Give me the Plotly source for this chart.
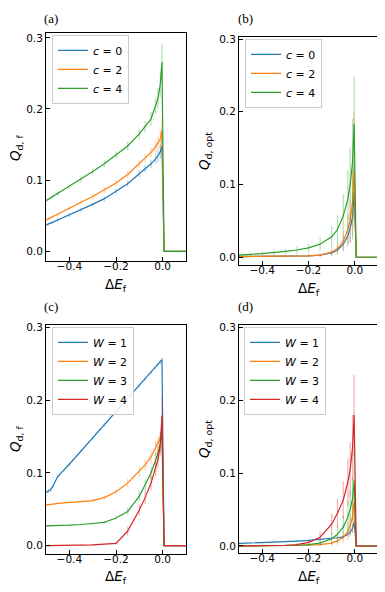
import plotly.graph_objects as go

# shared grid of Delta E_f values
dE = [-0.5, -0.49, -0.48, -0.47, -0.45, -0.4, -0.35, -0.3, -0.25, -0.2, -0.15,
      -0.1, -0.075, -0.05, -0.03, -0.02, -0.01, -0.003, 0.006, 0.1]

# (a) Q_d,f for different c
qf_c0 = [0.037, 0.038, 0.040, 0.041, 0.044, 0.051, 0.058, 0.066, 0.074, 0.084, 0.095,
         0.109, 0.116, 0.123, 0.130, 0.134, 0.140, 0.148, 0.0, 0.0]
qf_c2 = [0.044, 0.046, 0.047, 0.049, 0.052, 0.061, 0.069, 0.077, 0.086, 0.096, 0.108,
         0.123, 0.131, 0.139, 0.147, 0.152, 0.158, 0.170, 0.0, 0.0]
qf_c4 = [0.071, 0.073, 0.075, 0.077, 0.081, 0.091, 0.101, 0.112, 0.123, 0.135, 0.148,
         0.165, 0.175, 0.186, 0.205, 0.215, 0.235, 0.266, 0.0, 0.0]
err_qf_c0 = [0.002, 0.002, 0.002, 0.002, 0.003, 0.003, 0.003, 0.003, 0.004, 0.004, 0.004,
             0.005, 0.005, 0.006, 0.007, 0.008, 0.010, 0.012, 0.0, 0.0]
err_qf_c2 = [0.002, 0.002, 0.002, 0.002, 0.003, 0.003, 0.003, 0.004, 0.004, 0.004, 0.005,
             0.005, 0.006, 0.007, 0.008, 0.009, 0.012, 0.018, 0.0, 0.0]
err_qf_c4 = [0.002, 0.002, 0.002, 0.002, 0.003, 0.003, 0.004, 0.004, 0.005, 0.005, 0.006,
             0.007, 0.008, 0.010, 0.012, 0.014, 0.018, 0.025, 0.0, 0.0]

# (b) Q_d,opt for different c
qo_c0 = [0.001, 0.001, 0.001, 0.001, 0.001, 0.001, 0.001, 0.001, 0.002, 0.002, 0.003,
         0.006, 0.010, 0.018, 0.030, 0.040, 0.055, 0.090, 0.0, 0.0]
qo_c2 = [0.001, 0.001, 0.001, 0.001, 0.001, 0.001, 0.001, 0.001, 0.002, 0.002, 0.003,
         0.007, 0.012, 0.022, 0.038, 0.050, 0.075, 0.120, 0.0, 0.0]
qo_c4 = [0.003, 0.003, 0.003, 0.003, 0.004, 0.005, 0.006, 0.008, 0.010, 0.013, 0.018,
         0.028, 0.038, 0.057, 0.080, 0.100, 0.130, 0.183, 0.0, 0.0]
err_qo_c0 = [0.001, 0.001, 0.001, 0.001, 0.001, 0.001, 0.001, 0.001, 0.001, 0.002, 0.002,
             0.004, 0.006, 0.010, 0.015, 0.020, 0.030, 0.040, 0.0, 0.0]
err_qo_c2 = [0.001, 0.001, 0.001, 0.001, 0.001, 0.001, 0.001, 0.001, 0.001, 0.002, 0.003,
             0.005, 0.008, 0.012, 0.020, 0.030, 0.045, 0.080, 0.0, 0.0]
err_qo_c4 = [0.002, 0.002, 0.002, 0.002, 0.002, 0.003, 0.003, 0.004, 0.005, 0.006, 0.009,
             0.015, 0.020, 0.030, 0.040, 0.050, 0.060, 0.065, 0.0, 0.0]

# (c) Q_d,f for different W
qf_w1 = [0.073, 0.075, 0.077, 0.082, 0.095, 0.112, 0.130, 0.148, 0.166, 0.184, 0.202,
         0.220, 0.229, 0.238, 0.245, 0.249, 0.252, 0.256, 0.0, 0.0]
qf_w2 = [0.056, 0.056, 0.057, 0.057, 0.058, 0.059, 0.060, 0.062, 0.066, 0.074, 0.086,
         0.102, 0.111, 0.122, 0.134, 0.141, 0.148, 0.157, 0.0, 0.0]
qf_w3 = [0.027, 0.027, 0.027, 0.028, 0.028, 0.028, 0.029, 0.030, 0.032, 0.038, 0.047,
         0.068, 0.083, 0.100, 0.118, 0.127, 0.140, 0.160, 0.0, 0.0]
qf_w4 = [0.000, 0.000, 0.000, 0.000, 0.000, 0.000, 0.001, 0.001, 0.002, 0.003, 0.020,
         0.049, 0.066, 0.086, 0.108, 0.118, 0.140, 0.179, 0.0, 0.0]
err_qf_w1 = [0.003, 0.003, 0.003, 0.003, 0.002, 0.002, 0.002, 0.002, 0.002, 0.002, 0.002,
             0.002, 0.002, 0.002, 0.002, 0.002, 0.003, 0.003, 0.0, 0.0]
err_qf_w2 = [0.001, 0.001, 0.001, 0.001, 0.001, 0.001, 0.001, 0.002, 0.003, 0.004, 0.006,
             0.007, 0.008, 0.009, 0.010, 0.010, 0.010, 0.012, 0.0, 0.0]
err_qf_w3 = [0.001, 0.001, 0.001, 0.001, 0.001, 0.001, 0.001, 0.001, 0.002, 0.003, 0.005,
             0.007, 0.008, 0.009, 0.010, 0.010, 0.012, 0.015, 0.0, 0.0]
err_qf_w4 = [0.000, 0.000, 0.000, 0.000, 0.000, 0.000, 0.001, 0.001, 0.001, 0.002, 0.006,
             0.008, 0.009, 0.010, 0.012, 0.013, 0.016, 0.025, 0.0, 0.0]

# (d) Q_d,opt for different W
qo_w1 = [0.0035, 0.0036, 0.0037, 0.0038, 0.0040, 0.0045, 0.0052, 0.0060, 0.0068, 0.0076, 0.0088,
         0.0103, 0.0113, 0.0125, 0.0160, 0.0190, 0.0240, 0.0330, 0.0, 0.0]
qo_w2 = [0.000, 0.000, 0.000, 0.000, 0.000, 0.000, 0.000, 0.000, 0.001, 0.001, 0.002,
         0.004, 0.007, 0.012, 0.020, 0.028, 0.040, 0.060, 0.0, 0.0]
qo_w3 = [0.000, 0.000, 0.000, 0.000, 0.000, 0.000, 0.000, 0.001, 0.001, 0.002, 0.004,
         0.010, 0.016, 0.026, 0.040, 0.050, 0.065, 0.090, 0.0, 0.0]
qo_w4 = [0.000, 0.000, 0.000, 0.000, 0.000, 0.001, 0.001, 0.001, 0.002, 0.005, 0.012,
         0.030, 0.045, 0.063, 0.088, 0.105, 0.135, 0.180, 0.0, 0.0]
err_qo_w1 = [0.001, 0.001, 0.001, 0.001, 0.001, 0.001, 0.001, 0.001, 0.001, 0.001, 0.001,
             0.001, 0.002, 0.002, 0.003, 0.004, 0.006, 0.008, 0.0, 0.0]
err_qo_w2 = [0.000, 0.000, 0.000, 0.000, 0.000, 0.000, 0.000, 0.000, 0.001, 0.001, 0.002,
             0.004, 0.006, 0.008, 0.012, 0.015, 0.020, 0.030, 0.0, 0.0]
err_qo_w3 = [0.000, 0.000, 0.000, 0.000, 0.000, 0.000, 0.000, 0.001, 0.001, 0.002, 0.004,
             0.008, 0.012, 0.016, 0.022, 0.026, 0.030, 0.040, 0.0, 0.0]
err_qo_w4 = [0.000, 0.000, 0.000, 0.000, 0.000, 0.001, 0.001, 0.001, 0.002, 0.004, 0.008,
             0.015, 0.020, 0.026, 0.032, 0.038, 0.045, 0.055, 0.0, 0.0]

c_labels = ['<i>c</i> = 0', '<i>c</i> = 2', '<i>c</i> = 4']
w_labels = ['<i>W</i> = 1', '<i>W</i> = 2', '<i>W</i> = 3', '<i>W</i> = 4']

colors = ['#1f77b4', '#ff7f0e', '#2ca02c', '#d62728']
faint = ['rgba(31,119,180,0.35)', 'rgba(255,127,14,0.35)',
         'rgba(44,160,44,0.35)', 'rgba(214,39,40,0.35)']

panels = [
    # axis suffix, legend, series, errors, labels
    ('', 'legend', [qf_c0, qf_c2, qf_c4], [err_qf_c0, err_qf_c2, err_qf_c4], c_labels),
    ('2', 'legend2', [qo_c0, qo_c2, qo_c4], [err_qo_c0, err_qo_c2, err_qo_c4], c_labels),
    ('3', 'legend3', [qf_w1, qf_w2, qf_w3, qf_w4],
     [err_qf_w1, err_qf_w2, err_qf_w3, err_qf_w4], w_labels),
    ('4', 'legend4', [qo_w1, qo_w2, qo_w3, qo_w4],
     [err_qo_w1, err_qo_w2, err_qo_w3, err_qo_w4], w_labels),
]

fig = go.Figure()
for ax, leg, series, errs, labels in panels:
    for i, (ys, es, lab) in enumerate(zip(series, errs, labels)):
        fig.add_trace(go.Scatter(
            x=dE, y=ys, mode='lines', name=lab,
            line=dict(color=colors[i], width=1.2),
            error_y=dict(type='data', array=es, color=faint[i], thickness=1.2, width=0),
            xaxis='x' + ax, yaxis='y' + ax, legend=leg,
        ))

# the page body has an 8px margin, so the figure is drawn that much smaller
# and all pixel positions (measured on the 385x592 page) are shifted back
OFF = 8
W, H = 385 - OFF, 592 - OFF


def px_x(p):
    return (p - OFF) / W


def px_y(p):
    return 1 - (p - OFF) / H


# plot areas in page pixels: left, right, top, bottom, y range
boxes = {
    '': (46, 186, 29, 259, [-0.014, 0.307]),
    '2': (239, 378, 33, 263, [-0.011, 0.303]),
    '3': (46, 186, 323, 554, [-0.012, 0.304]),
    '4': (239, 378, 323, 553, [-0.010, 0.304]),
}

tick_font = dict(family='DejaVu Sans', size=10.5, color='black')
axis_common = dict(showline=True, mirror=True, linecolor='black', linewidth=1,
                   ticks='inside', ticklen=4, tickcolor='black', showgrid=False,
                   zeroline=False, tickfont=tick_font)

layout = {}
for ax, (l, r, t, b, yr) in boxes.items():
    layout['xaxis' + ax] = dict(domain=[px_x(l), px_x(r)], range=[-0.5, 0.1],
                                tickvals=[-0.4, -0.2, 0.0], tickformat='.1f',
                                ticklabelstandoff=-5,
                                anchor='y' + ax, **axis_common)
    layout['yaxis' + ax] = dict(domain=[px_y(b), px_y(t)], range=yr,
                                tickvals=[0.0, 0.1, 0.2, 0.3], tickformat='.1f',
                                anchor='x' + ax, **axis_common)

legend_style = dict(xanchor='left', yanchor='top', bgcolor='rgba(255,255,255,0.85)',
                    bordercolor='#cccccc', borderwidth=1, itemwidth=30,
                    font=dict(family='DejaVu Sans', size=11, color='black'),
                    tracegroupgap=0)
layout['legend'] = dict(x=px_x(52), y=px_y(31), **legend_style)
layout['legend2'] = dict(x=px_x(245), y=px_y(35), **legend_style)
layout['legend3'] = dict(x=px_x(52), y=px_y(325), **legend_style)
layout['legend4'] = dict(x=px_x(244), y=px_y(325), **legend_style)

fig.update_layout(
    width=W, height=H, margin=dict(l=0, r=0, t=0, b=0),
    paper_bgcolor='white', plot_bgcolor='white', showlegend=True,
    **layout
)

label_font = dict(family='DejaVu Sans', size=13.5, color='black')
panel_font = dict(family='Liberation Serif', size=13, color='black')
xtitle = 'Δ<i>E</i><sub>f</sub>'
annotations = [
    # x-axis titles
    dict(x=px_x(116), y=px_y(283), text=xtitle),
    dict(x=px_x(308.5), y=px_y(287), text=xtitle),
    dict(x=px_x(116), y=px_y(577), text=xtitle),
    dict(x=px_x(308.5), y=px_y(577), text=xtitle),
    # y-axis titles
    dict(x=px_x(16), y=px_y(145), text='<i>Q</i><sub>d, f</sub>', textangle=-90),
    dict(x=px_x(205), y=px_y(148), text='<i>Q</i><sub>d, opt</sub>', textangle=-90),
    dict(x=px_x(16), y=px_y(438), text='<i>Q</i><sub>d, f</sub>', textangle=-90),
    dict(x=px_x(205), y=px_y(438), text='<i>Q</i><sub>d, opt</sub>', textangle=-90),
]
for a in annotations:
    a.update(xref='paper', yref='paper', showarrow=False, font=label_font,
             xanchor='center', yanchor='middle')

for txt, x, y in [('(a)', 51, 15), ('(b)', 245, 15), ('(c)', 51, 305), ('(d)', 245, 305)]:
    annotations.append(dict(x=px_x(x), y=px_y(y), text=txt, xref='paper', yref='paper',
                            showarrow=False, font=panel_font,
                            xanchor='center', yanchor='middle'))

fig.update_layout(annotations=annotations)

fig.write_html("out.html")
